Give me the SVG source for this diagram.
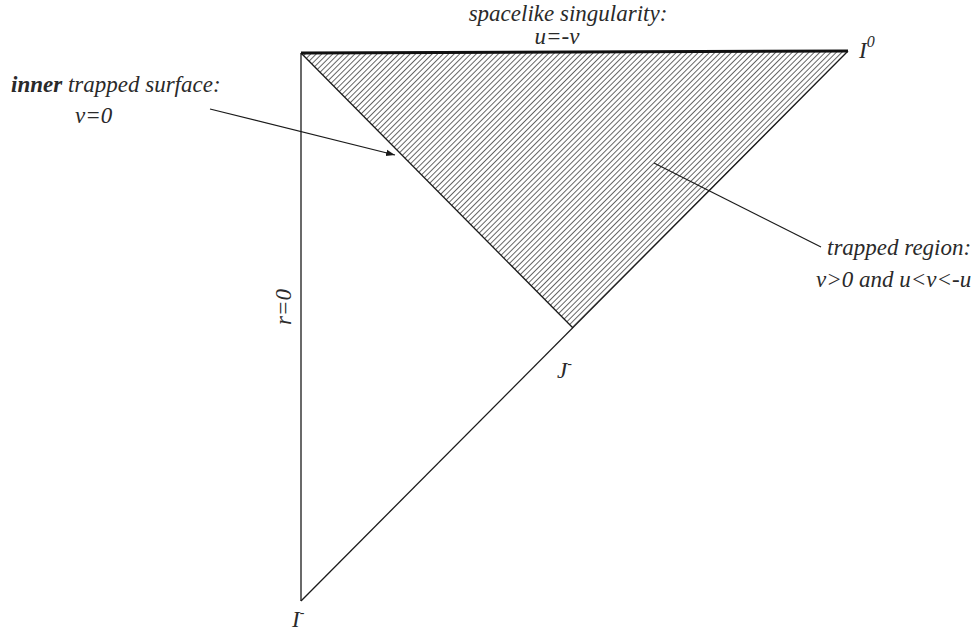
<svg xmlns="http://www.w3.org/2000/svg" width="977" height="631" viewBox="0 0 977 631">
<style>
text{font-family:'Liberation Serif','DejaVu Serif',serif;font-style:italic;fill:#2a2a2a;font-size:23px}
.ln{stroke:#1a1a1a;stroke-width:1.3;fill:none}
.lead{stroke:#1a1a1a;stroke-width:1.2;fill:none}
</style>
<defs>
<pattern id="hatch" patternUnits="userSpaceOnUse" width="3.9" height="3.9" patternTransform="rotate(45)">
<line x1="0.5" y1="0" x2="0.5" y2="3.9" stroke="#333" stroke-width="0.75"/>
</pattern>
<marker id="arr" markerWidth="10" markerHeight="8" refX="9" refY="4" orient="auto" markerUnits="userSpaceOnUse">
<path d="M0,0.8 L9,4 L0,7.2 Z" fill="#1a1a1a"/>
</marker>
</defs>
<g id="trapped-region-fill">
<polygon points="301,53 848,51 573,328" fill="url(#hatch)"/>
</g>
<g id="connectors">
<line class="ln" x1="301" y1="53" x2="301" y2="601"/>
<line class="ln" x1="301" y1="601" x2="848" y2="51"/>
<line class="ln" x1="301" y1="53" x2="573" y2="328"/>
<line x1="301" y1="53" x2="848" y2="51" stroke="#111" stroke-width="3"/>
<line class="lead" x1="210" y1="109" x2="395" y2="155" marker-end="url(#arr)"/>
<line class="lead" x1="654" y1="163" x2="821" y2="247"/>
</g>
<g id="label-singularity">
<text x="568" y="21" text-anchor="middle">spacelike singularity:</text>
<text x="557" y="44" text-anchor="middle" font-size="22">u=-v</text>
</g>
<g id="label-I0">
<text x="859" y="58" font-size="24">I<tspan dy="-11" font-size="16">0</tspan></text>
</g>
<g id="label-inner">
<text x="11" y="92"><tspan font-weight="bold">inner</tspan> trapped surface:</text>
<text x="75" y="123">v=0</text>
</g>
<g id="label-trapped">
<text x="827" y="255">trapped region:</text>
<text x="816" y="287">v&gt;0 and u&lt;v&lt;-u</text>
</g>
<g id="label-r0">
<text transform="translate(291,307) rotate(-90)" text-anchor="middle">r=0</text>
</g>
<g id="label-Jminus">
<text x="557" y="378">J<tspan dy="-10" font-size="14">-</tspan></text>
</g>
<g id="label-Iminus">
<text x="292" y="627">I<tspan dy="-10" font-size="14">-</tspan></text>
</g>
</svg>
